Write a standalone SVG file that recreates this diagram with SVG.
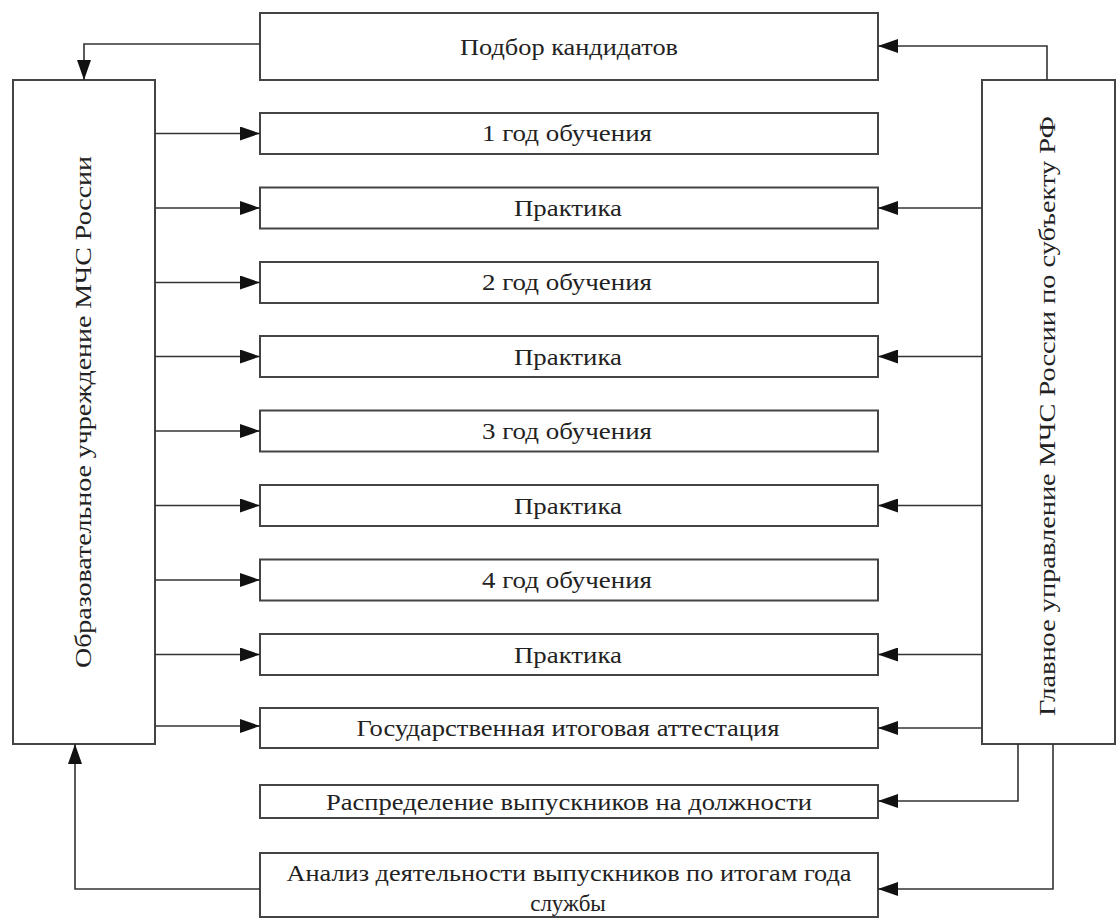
<svg xmlns="http://www.w3.org/2000/svg" width="1116" height="918" viewBox="0 0 1116 918">
<defs>
<marker id="ah" markerWidth="20" markerHeight="14" refX="20" refY="7" orient="auto" markerUnits="userSpaceOnUse">
<path d="M0,0 L20,7 L0,14 Z" fill="#111"/>
</marker>
<style>
.box{fill:#fff;stroke:#444;stroke-width:2}
.t{font-family:"Liberation Serif","Times New Roman",serif;font-size:23px;fill:#222;text-anchor:middle}
.c{fill:none;stroke:#333;stroke-width:1.6;marker-end:url(#ah)}
</style>
</defs>
<rect width="1116" height="918" fill="#fff"/>
<g id="n-podbor"><rect class="box" x="260" y="13" width="618" height="67"/><text class="t" x="569" y="55" textLength="218" lengthAdjust="spacingAndGlyphs">Подбор кандидатов</text></g>
<g id="n-left"><rect class="box" x="13" y="80" width="142" height="664"/><text class="t" transform="translate(91,412) rotate(-90)" textLength="512" lengthAdjust="spacingAndGlyphs">Образовательное учреждение МЧС России</text></g>
<g id="n-right"><rect class="box" x="982" y="80" width="133" height="664"/><text class="t" transform="translate(1055,416) rotate(-90)" textLength="600" lengthAdjust="spacingAndGlyphs">Главное управление МЧС России по субъекту РФ</text></g>
<g id="n-y1"><rect class="box" x="260" y="113" width="618" height="41"/><text class="t" x="567" y="141" textLength="170" lengthAdjust="spacingAndGlyphs">1 год обучения</text></g>
<g id="n-p1"><rect class="box" x="260" y="187.5" width="618" height="41"/><text class="t" x="568" y="216" textLength="108" lengthAdjust="spacingAndGlyphs">Практика</text></g>
<g id="n-y2"><rect class="box" x="260" y="262" width="618" height="41"/><text class="t" x="567" y="290" textLength="170" lengthAdjust="spacingAndGlyphs">2 год обучения</text></g>
<g id="n-p2"><rect class="box" x="260" y="336" width="618" height="41"/><text class="t" x="568" y="364.5" textLength="108" lengthAdjust="spacingAndGlyphs">Практика</text></g>
<g id="n-y3"><rect class="box" x="260" y="410.5" width="618" height="41"/><text class="t" x="567" y="438.5" textLength="170" lengthAdjust="spacingAndGlyphs">3 год обучения</text></g>
<g id="n-p3"><rect class="box" x="260" y="485" width="618" height="41"/><text class="t" x="568" y="513.5" textLength="108" lengthAdjust="spacingAndGlyphs">Практика</text></g>
<g id="n-y4"><rect class="box" x="260" y="559.5" width="618" height="41"/><text class="t" x="567" y="587.5" textLength="170" lengthAdjust="spacingAndGlyphs">4 год обучения</text></g>
<g id="n-p4"><rect class="box" x="260" y="634" width="618" height="41"/><text class="t" x="568" y="662.5" textLength="108" lengthAdjust="spacingAndGlyphs">Практика</text></g>
<g id="n-gia"><rect class="box" x="260" y="708" width="618" height="40"/><text class="t" x="568" y="735.5" textLength="423" lengthAdjust="spacingAndGlyphs">Государственная итоговая аттестация</text></g>
<g id="n-rasp"><rect class="box" x="260" y="785" width="618" height="33"/><text class="t" x="569" y="809.5" textLength="486" lengthAdjust="spacingAndGlyphs">Распределение выпускников на должности</text></g>
<g id="n-analiz"><rect class="box" x="260" y="853" width="618" height="64"/><text class="t" x="569" y="881" textLength="565" lengthAdjust="spacingAndGlyphs">Анализ деятельности выпускников по итогам года</text><text class="t" x="568" y="911">службы</text></g>
<g id="connectors">
<path class="c" d="M260,44 H84 V80"/>
<path class="c" d="M1047,80 V46 H878"/>
<path class="c" d="M155,133.5 H260"/>
<path class="c" d="M155,208 H260"/>
<path class="c" d="M155,282.5 H260"/>
<path class="c" d="M155,356.5 H260"/>
<path class="c" d="M155,431 H260"/>
<path class="c" d="M155,505.5 H260"/>
<path class="c" d="M155,580 H260"/>
<path class="c" d="M155,654.5 H260"/>
<path class="c" d="M155,726 H260"/>
<path class="c" d="M982,208 H878"/>
<path class="c" d="M982,356.5 H878"/>
<path class="c" d="M982,505.5 H878"/>
<path class="c" d="M982,654.5 H878"/>
<path class="c" d="M982,728 H878"/>
<path class="c" d="M1018,744 V801 H878"/>
<path class="c" d="M1053,744 V889 H878"/>
<path class="c" d="M260,889 H75 V744"/>
</g>
</svg>
